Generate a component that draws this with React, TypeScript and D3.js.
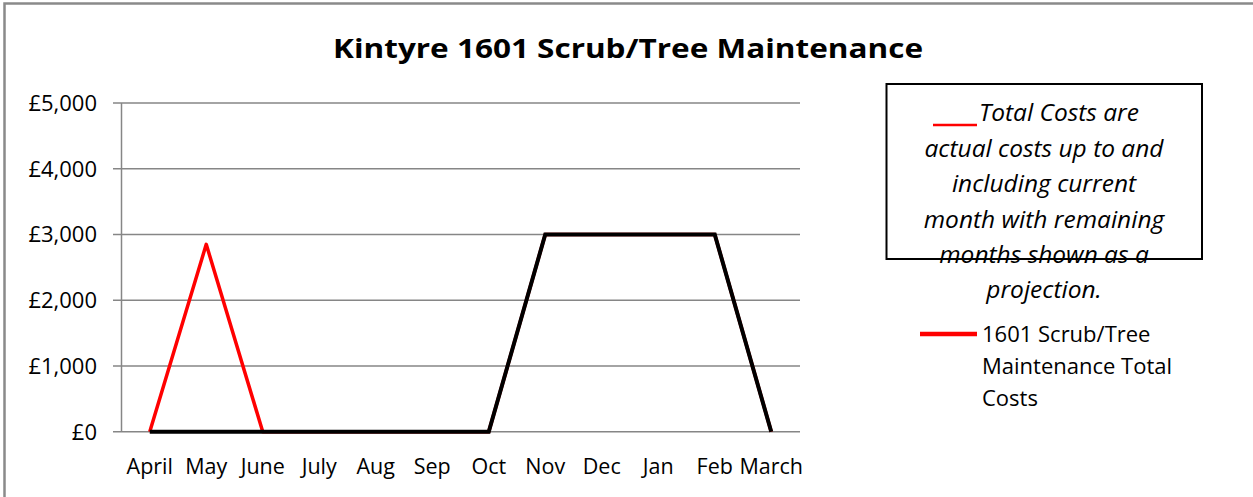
import React from "react";
import * as d3 from "d3";

const months = ["April", "May", "June", "July", "Aug", "Sep", "Oct", "Nov", "Dec", "Jan", "Feb", "March"];
// full year total (actual + projection), drawn in red underneath
const totalCosts = [0, 2850, 0, 0, 0, 0, 0, 3000, 3000, 3000, 3000, 0];
// projection line drawn on top in black
const projection = [0, 0, 0, 0, 0, 0, 0, 3000, 3000, 3000, 3000, 0];
const yTicks = [0, 1000, 2000, 3000, 4000, 5000];

const noteLines = ["actual costs up to and", "including current", "month with remaining", "months shown as a", "projection."];
const legendLines = ["1601 Scrub/Tree", "Maintenance Total", "Costs"];

const width = 1253;
const height = 497;
const plotLeft = 121.5;
const plotRight = 799.5;
const plotTop = 103;
const plotBottom = 431.7;
const font = "'Open Sans', sans-serif";

export default function App() {
  const x = d3.scalePoint<string>().domain(months).range([plotLeft, plotRight]).padding(0.5);
  const y = d3.scaleLinear().domain([0, 5000]).range([plotBottom, plotTop]);
  const fmt = (v: number) => "£" + d3.format(",")(v);

  const line = d3
    .line<number>()
    .x((d, i) => x(months[i]) as number)
    .y((d) => y(d));

  return (
    <svg
      width={width}
      height={height}
      style={{ position: "absolute", left: 0, top: 0, background: "#fff" }}
    >
      <rect x={4.5} y={3.5} width={1300} height={600} fill="#fff" stroke="#8a8a8a" strokeWidth={2.5} />

      <text
        x={628}
        y={58}
        textAnchor="middle"
        fontFamily={font}
        fontWeight="bold"
        fontSize={27}
        textLength={590}
        lengthAdjust="spacingAndGlyphs"
      >
        Kintyre 1601 Scrub/Tree Maintenance
      </text>

      {/* gridlines + y labels */}
      {yTicks.map((t) => (
        <g key={t}>
          <line x1={113} x2={plotRight + 0.5} y1={y(t)} y2={y(t)} stroke="#868686" strokeWidth={1.5} />
          <text x={97} y={y(t) + 8} textAnchor="end" fontFamily={font} fontSize={22} fill="#000">
            {fmt(t)}
          </text>
        </g>
      ))}
      <line x1={plotLeft} x2={plotLeft} y1={plotTop} y2={plotBottom} stroke="#868686" strokeWidth={1.5} />

      {months.map((m) => (
        <text key={m} x={x(m)} y={474} textAnchor="middle" fontFamily={font} fontSize={21.5} fill="#000">
          {m}
        </text>
      ))}

      <path d={line(totalCosts) || ""} fill="none" stroke="#ff0000" strokeWidth={3.5} strokeLinejoin="round" />
      <path d={line(projection) || ""} fill="none" stroke="#000" strokeWidth={4} strokeLinejoin="miter" />

      {/* note box */}
      <rect x={886.5} y={84} width={315.5} height={175} fill="none" stroke="#000" strokeWidth={2} />
      <line x1={933} x2={977} y1={125} y2={125} stroke="#ff0000" strokeWidth={2.5} />
      <text x={979} y={121} fontFamily={font} fontStyle="italic" fontSize={24.5} fill="#000">
        Total Costs are
      </text>
      {noteLines.map((l, i) => (
        <text
          key={l}
          x={1044}
          y={157 + i * 35.3}
          textAnchor="middle"
          fontFamily={font}
          fontStyle="italic"
          fontSize={24.5}
          fill="#000"
        >
          {l}
        </text>
      ))}

      {/* legend */}
      <line x1={920} x2={977} y1={334} y2={334} stroke="#ff0000" strokeWidth={4.5} />
      {legendLines.map((l, i) => (
        <text key={l} x={982} y={342 + i * 32.2} fontFamily={font} fontSize={22} fill="#000">
          {l}
        </text>
      ))}
    </svg>
  );
}
